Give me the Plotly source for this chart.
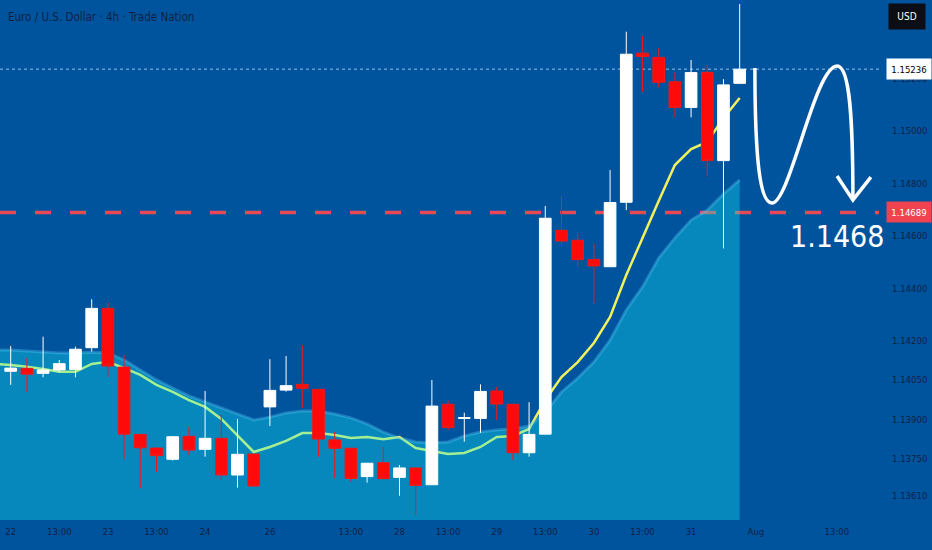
import plotly.graph_objects as go

# EUR/USD 4h bars, index 0 = first bar of the 22nd
opens = [1.14083, 1.14094, 1.14075, 1.14088, 1.14090, 1.14173, 1.14323, 1.14099, 1.13842, 1.13790,
         1.13747, 1.13835, 1.13785, 1.13827, 1.13687, 1.13767, 1.13947, 1.14011, 1.14033, 1.14014,
         1.13821, 1.13789, 1.13681, 1.13734, 1.13678, 1.13714, 1.13650, 1.13957, 1.13903, 1.13903,
         1.14008, 1.13957, 1.13772, 1.13843, 1.14621, 1.14583, 1.14510, 1.14482, 1.14728, 1.15297,
         1.15281, 1.15188, 1.15090, 1.15224, 1.14887, 1.15182]
highs = [1.14179, 1.14134, 1.14215, 1.14126, 1.14177, 1.14358, 1.14344, 1.14145, 1.13843, 1.13790,
         1.13836, 1.13871, 1.14008, 1.13916, 1.13901, 1.13767, 1.14129, 1.14141, 1.14183, 1.14014,
         1.13852, 1.13789, 1.13732, 1.13793, 1.13725, 1.13715, 1.14050, 1.13971, 1.13925, 1.14033,
         1.14024, 1.13957, 1.13965, 1.14714, 1.14752, 1.14612, 1.14571, 1.14851, 1.15379, 1.15363,
         1.15316, 1.15223, 1.15271, 1.15252, 1.15198, 1.15485]
lows = [1.14031, 1.14004, 1.14060, 1.14080, 1.14060, 1.14158, 1.14062, 1.13747, 1.13636, 1.13700,
        1.13742, 1.13763, 1.13757, 1.13668, 1.13639, 1.13642, 1.13874, 1.14005, 1.13942, 1.13757,
        1.13674, 1.13661, 1.13658, 1.13673, 1.13608, 1.13534, 1.13650, 1.13859, 1.13814, 1.13848,
        1.13897, 1.13744, 1.13757, 1.13843, 1.14565, 1.14482, 1.14342, 1.14482, 1.14698, 1.15150,
        1.15167, 1.15052, 1.15052, 1.14826, 1.14552, 1.15182]
closes = [1.14095, 1.14072, 1.14088, 1.14112, 1.14167, 1.14323, 1.14103, 1.13843, 1.13791, 1.13761,
          1.13833, 1.13782, 1.13827, 1.13687, 1.13766, 1.13645, 1.14010, 1.14028, 1.14018, 1.13824,
          1.13789, 1.13674, 1.13732, 1.13673, 1.13714, 1.13647, 1.13950, 1.13868, 1.13906, 1.14006,
          1.13958, 1.13772, 1.13842, 1.14667, 1.14580, 1.14509, 1.14485, 1.14727, 1.15293, 1.15284,
          1.15186, 1.15090, 1.15223, 1.14887, 1.15176, 1.15236]
bar_idx = list(range(len(opens)))

# moving averages start one bar earlier (that bar is cut off at the left edge)
ema_fast = [1.14111, 1.14107, 1.14100, 1.14092, 1.14081, 1.14081, 1.14111, 1.14119, 1.14095, 1.14069,
            1.14031, 1.14004, 1.13973, 1.13947, 1.13901, 1.13836, 1.13775, 1.13794, 1.13817, 1.13847,
            1.13847, 1.13840, 1.13828, 1.13832, 1.13824, 1.13832, 1.13790, 1.13779, 1.13767, 1.13771,
            1.13794, 1.13832, 1.13836, 1.13863, 1.13973, 1.14061, 1.14118, 1.14191, 1.14290, 1.14450,
            1.14595, 1.14733, 1.14870, 1.14931, 1.14958, 1.15050, 1.15126]
ema_slow = [1.14164, 1.14164, 1.14160, 1.14156, 1.14153, 1.14153, 1.14156, 1.14153, 1.14126, 1.14088,
            1.14050, 1.14019, 1.13989, 1.13966, 1.13943, 1.13920, 1.13897, 1.13908, 1.13924, 1.13931,
            1.13931, 1.13920, 1.13905, 1.13882, 1.13851, 1.13828, 1.13813, 1.13809, 1.13813, 1.13836,
            1.13851, 1.13859, 1.13863, 1.13874, 1.13927, 1.14004, 1.14057, 1.14118, 1.14202, 1.14317,
            1.14405, 1.14515, 1.14592, 1.14660, 1.14698, 1.14760, 1.14813]
ind_idx = list(range(-1, len(ema_fast) - 1))

x_tick_pos = [0, 3, 6, 9, 12, 16, 21, 24, 27, 30, 33, 36, 39, 42, 46, 51]
x_tick_text = ["22", "13:00", "23", "13:00", "24", "26", "13:00", "28", "13:00",
               "29", "13:00", "30", "13:00", "31", "Aug", "13:00"]
y_ticks = [1.15200, 1.15000, 1.14800, 1.14600, 1.14400, 1.14200, 1.14050, 1.13900, 1.13750, 1.13610]

last_price = 1.15236
target = 1.14689
target_text = "1.1468"
title = "Euro / U.S. Dollar · 4h · Trade Nation"

BG = "#00549e"
NARROW = "Liberation Sans Narrow, DejaVu Sans Condensed, Roboto Condensed, Roboto, sans-serif"
TXT = "#0f2143"
y_range = [1.135153, 1.155000]

fig = go.Figure()
# yellow line first so the translucent area tints it green where it runs inside
fig.add_trace(go.Scatter(x=ind_idx, y=ema_fast, mode="lines",
                         line=dict(color="#f2f25e", width=2.5), hoverinfo="skip"))
fig.add_trace(go.Scatter(x=ind_idx, y=ema_slow, mode="lines", fill="tozeroy",
                         fillcolor="rgba(18,234,243,0.35)",
                         line=dict(color="rgba(90,200,245,0.35)", width=3), hoverinfo="skip"))
# candles on an overlaid axis so they sit above the area
fig.add_trace(go.Candlestick(x=bar_idx, open=opens, high=highs, low=lows, close=closes,
                             yaxis="y2", whiskerwidth=0,
                             increasing=dict(line=dict(color="#ffffff", width=1), fillcolor="#ffffff"),
                             decreasing=dict(line=dict(color="#f01818", width=1), fillcolor="#ff0a0a")))

# price lines
fig.add_shape(type="line", xref="paper", x0=0, x1=1, yref="y", y0=target, y1=target,
              line=dict(color="#e84a55", width=3.5, dash="16px,19px"), layer="below")
fig.add_shape(type="line", xref="paper", x0=0, x1=1, yref="y", y0=last_price, y1=last_price,
              line=dict(color="rgba(160,205,240,0.9)", width=1, dash="dot"), layer="below")

# hand drawn projection
fig.add_shape(type="path", xref="x", yref="y",
              path="M 45.94,1.15240 C 45.94,1.14889 46.25,1.14725 46.99,1.14725 "
                   "C 48.10,1.14725 49.65,1.15248 51.01,1.15248 "
                   "C 51.81,1.15248 51.99,1.15042 51.99,1.14737",
              line=dict(color="#ffffff", width=3.5))
fig.add_shape(type="path", xref="x", yref="y",
              path="M 51.01,1.14828 L 51.99,1.14737 L 53.10,1.14824",
              line=dict(color="#ffffff", width=3.5))

fig.add_annotation(xref="x", x=51, yref="y", y=target, yshift=-24, text=target_text,
                   showarrow=False, font=dict(family=NARROW, size=30, color="#ffffff"))
fig.add_annotation(xref="paper", x=0, xanchor="left", xshift=6, yref="paper", y=1, yshift=-17,
                   yanchor="middle", text=title, showarrow=False,
                   font=dict(family=NARROW, size=11.5, color=TXT))
fig.add_annotation(xref="paper", x=1, xanchor="center", xshift=28, yref="paper", y=1, yshift=-16,
                   yanchor="middle", text="USD", showarrow=False, bgcolor="#0b0e14",
                   width=30, height=19, borderpad=3,
                   font=dict(family=NARROW, size=10, color="#ffffff"))
fig.add_annotation(xref="paper", x=1, xanchor="left", xshift=7, yref="y", y=last_price,
                   text=f"{last_price:.5f}", showarrow=False, bgcolor="#ffffff",
                   width=40, height=16, borderpad=2,
                   font=dict(family=NARROW, size=9.5, color="#000000"))
fig.add_annotation(xref="paper", x=1, xanchor="left", xshift=7, yref="y", y=target,
                   text=f"{target:.5f}", showarrow=False, bgcolor="#f04350",
                   width=40, height=16, borderpad=2,
                   font=dict(family=NARROW, size=9.5, color="#ffffff"))

fig.update_layout(
    width=932, height=550, margin=dict(l=0, r=53, t=0, b=30),
    paper_bgcolor=BG, plot_bgcolor=BG, showlegend=False,
    boxgap=0.2, boxgroupgap=0.1,
    xaxis=dict(range=[-0.66, 53.6], tickvals=x_tick_pos, ticktext=x_tick_text,
               showgrid=False, zeroline=False, showline=False, ticks="",
               rangeslider=dict(visible=False), ticklabelstandoff=4,
               tickfont=dict(family=NARROW, size=9.5, color=TXT)),
    yaxis=dict(side="right", range=y_range, tickvals=y_ticks, tickformat=".5f",
               showgrid=False, zeroline=False, showline=False, ticks="",
               ticklabelstandoff=12, tickfont=dict(family=NARROW, size=9.5, color=TXT)),
    yaxis2=dict(overlaying="y", side="right", range=y_range, showticklabels=False,
                showgrid=False, zeroline=False),
)

# page body has a default 8px margin; drop it so the chart fills the window
fig.write_html("out.html", config={"displayModeBar": False},
               post_script="document.body.style.margin='0px';")
